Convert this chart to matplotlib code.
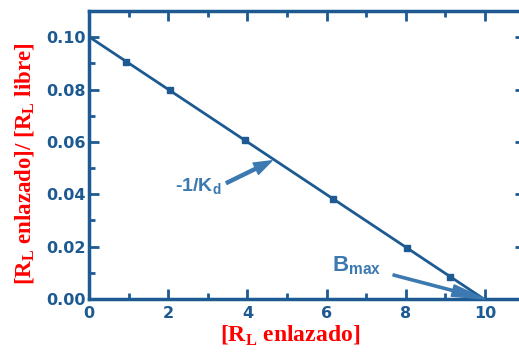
import numpy as np
import matplotlib
matplotlib.use('Agg')
import matplotlib.pyplot as plt
from matplotlib.ticker import MultipleLocator, FormatStrFormatter

# datos (Scatchard)
x_enlazado = [0.93, 2.05, 3.94, 6.17, 8.02, 9.12]
y_ratio = [0.0904, 0.0798, 0.0609, 0.0383, 0.0194, 0.0085]

azul = '#1d5a92'
azul_flecha = '#3c79b0'
rojo = '#ff0000'

plt.rcParams['mathtext.fontset'] = 'custom'
plt.rcParams['mathtext.bf'] = 'Liberation Serif:bold'
plt.rcParams['mathtext.sf'] = 'Liberation Sans:bold'

fig = plt.figure(figsize=(5.19, 3.54), dpi=100)
ax = fig.add_axes([89/519, 55/354, 11*39.6/519, 288/354])

# recta de ajuste
m, b = np.polyfit(x_enlazado, y_ratio, 1)
xs = np.array([0, -b/m])
ax.plot(xs, m*xs + b, color=azul, lw=2)
ax.plot(x_enlazado, y_ratio, 's', color=azul, ms=4)

ax.set_xlim(0, 11)
ax.set_ylim(0, 0.11)
ax.xaxis.set_minor_locator(MultipleLocator(1))
ax.yaxis.set_major_locator(MultipleLocator(0.02))
ax.yaxis.set_minor_locator(MultipleLocator(0.01))
ax.set_xticks([0, 2, 4, 6, 8, 10])
ax.yaxis.set_major_formatter(FormatStrFormatter('%.2f'))

for s in ax.spines.values():
    s.set_color(azul)
    s.set_linewidth(2.5)
ax.tick_params(which='both', direction='in', top=True, right=True,
               color=azul, width=2, labelcolor=azul)
ax.tick_params(which='major', length=7)
ax.tick_params(which='minor', length=4)
ax.tick_params(axis='y', pad=2)
ax.tick_params(axis='x', pad=5)
for lab in ax.get_xticklabels() + ax.get_yticklabels():
    lab.set_fontfamily('DejaVu Sans')
    lab.set_fontweight('bold')
    lab.set_fontsize(11.5)

ax.set_xlabel(r'[R$_{\mathbf{L}}$ enlazado]', family='Liberation Serif',
              weight='bold', color=rojo, fontsize=17)
ax.set_ylabel(r'[R$_{\mathbf{L}}$ enlazado]/ [R$_{\mathbf{L}}$ libre]',
              family='Liberation Serif', weight='bold', color=rojo, fontsize=16.5)
ax.xaxis.set_label_coords(0.462, -0.085)
ax.yaxis.set_label_coords(-0.12, 0.47)

# anotaciones
ax.text(2.75, 0.043, r'-1/K$_{\mathsf{d}}$', color=azul_flecha, fontsize=14,
        family='Liberation Sans', weight='bold', ha='center', va='center')
ax.annotate('', xy=(4.62, 0.0528), xytext=(3.47, 0.0443),
            arrowprops=dict(arrowstyle='simple,head_length=0.65,head_width=0.45,tail_width=0.11',
                            color=azul_flecha, mutation_scale=20, shrinkA=0, shrinkB=0))
ax.text(6.75, 0.0128, r'B$_{\mathsf{max}}$', color=azul_flecha, fontsize=16,
        family='Liberation Sans', weight='bold', ha='center', va='center')
ax.annotate('', xy=(10, 0), xytext=(7.68, 0.0092),
            arrowprops=dict(arrowstyle='simple,head_length=1.2,head_width=0.42,tail_width=0.08',
                            color=azul_flecha, mutation_scale=20, shrinkA=0, shrinkB=0))

fig.savefig('out.png', dpi=100)
